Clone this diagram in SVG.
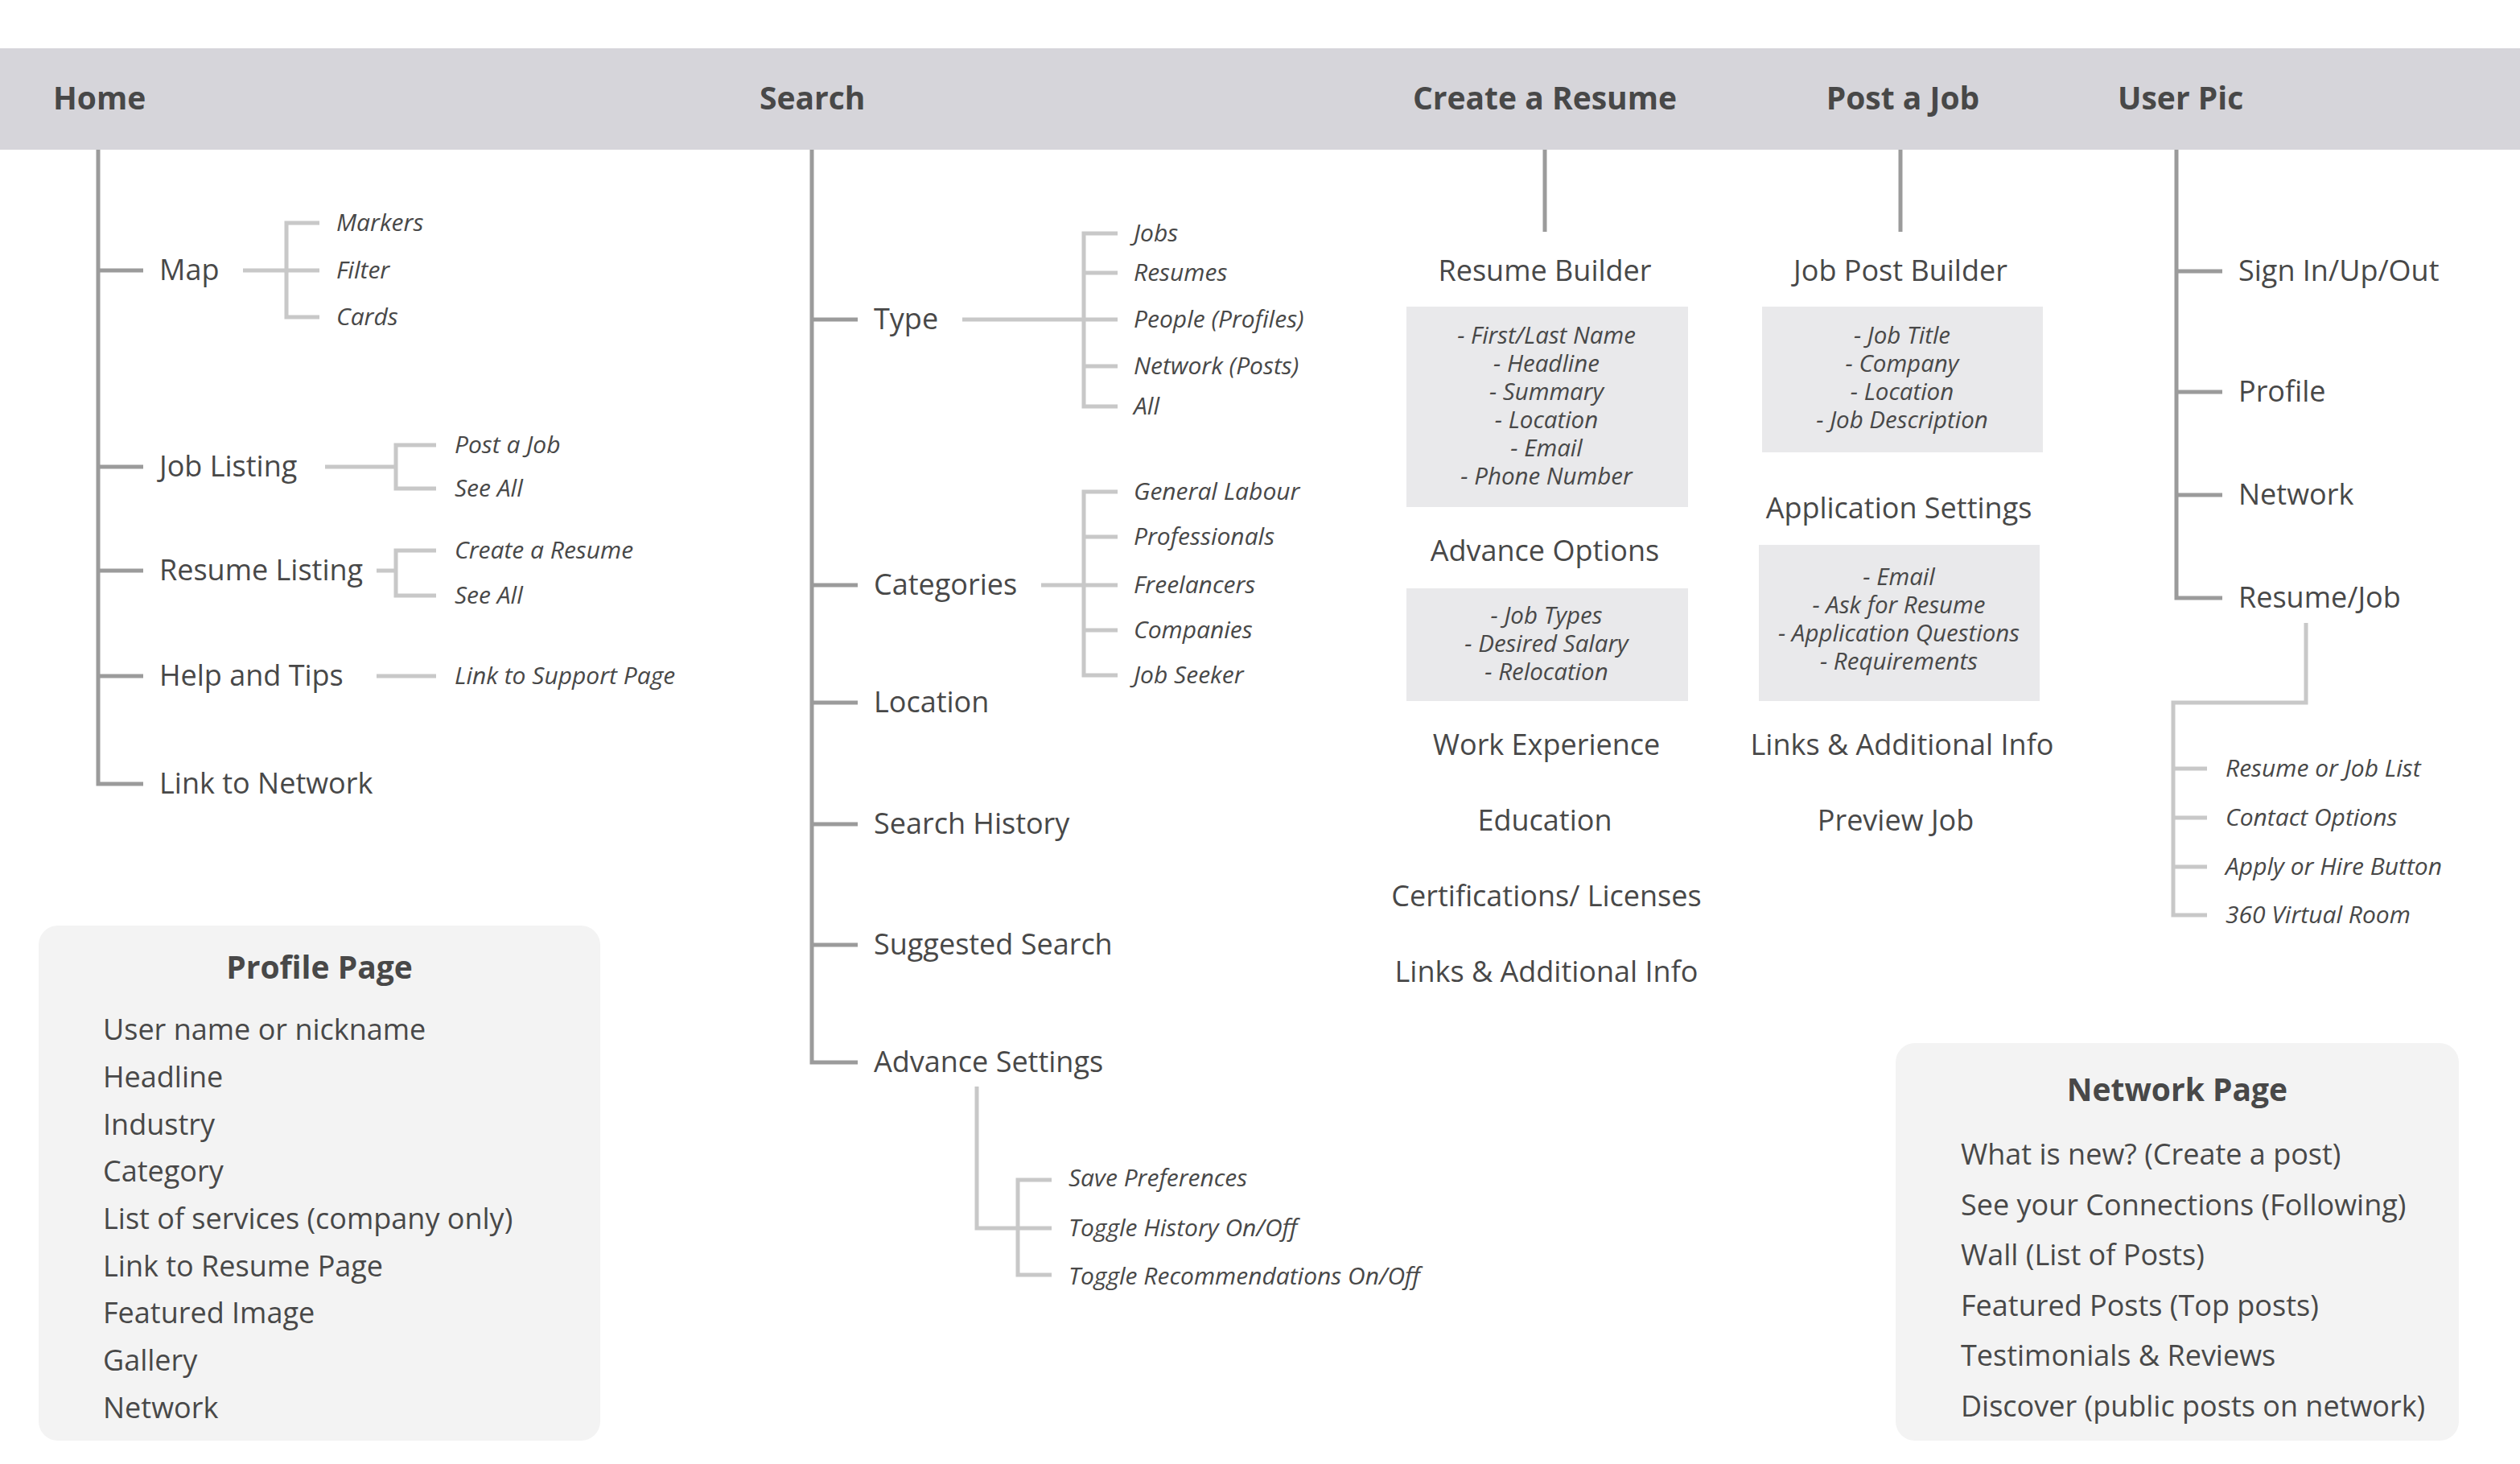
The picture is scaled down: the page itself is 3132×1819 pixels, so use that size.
<svg xmlns="http://www.w3.org/2000/svg" width="3132" height="1819" viewBox="0 0 3132 1819">
<style>
text{font-family:"Open Sans","Liberation Sans",sans-serif;fill:#484848}
.h{font-size:39px;font-weight:700}
.t{font-size:36px}
.s{font-size:30px;font-style:italic}
.b{font-size:29.5px;font-style:italic;text-anchor:middle}
.c{text-anchor:middle}
.trunk{fill:none;stroke:#9b9b9b;stroke-width:5}
.sub{fill:none;stroke:#c8c8c8;stroke-width:5}
.box{fill:#e9e9eb}
.panel{fill:#f3f3f3}
</style>
<rect width="3132" height="1819" fill="#ffffff"/>
<rect id="header-band" x="0" y="60" width="3132" height="126" fill="#d6d5da"/>

<g id="connectors">
<path class="trunk" d="M122 186V974H178M122 336H178M122 580H178M122 709H178M122 840H178"/>
<path class="sub" d="M302 336H397M397 277H356V394H397"/>
<path class="sub" d="M404 580H492M542 553H492V607H542"/>
<path class="sub" d="M468 709H492M542 684H492V740H542"/>
<path class="sub" d="M468 840H542"/>
<path class="trunk" d="M1009 186V1320H1066M1009 397H1066M1009 727H1066M1009 873H1066M1009 1024H1066M1009 1174H1066"/>
<path class="sub" d="M1196 397H1389M1389 290H1347V505H1389M1347 339H1389M1347 455H1389"/>
<path class="sub" d="M1294 727H1389M1389 611H1347V839H1389M1347 667H1389M1347 783H1389"/>
<path class="sub" d="M1214 1350V1526H1307M1307 1466H1265V1584H1307"/>
<path class="trunk" d="M1920 186V288"/>
<path class="trunk" d="M2362 186V288"/>
<path class="trunk" d="M2705 186V743H2762M2705 337H2762M2705 487H2762M2705 615H2762"/>
<path class="sub" d="M2866 774V873H2701V1137H2743M2701 955H2743M2701 1016H2743M2701 1077H2743"/>
</g>

<g id="home">
<text class="h" x="66" y="136">Home</text>
<g id="home-map"><text class="t" x="198" y="348">Map</text>
<text class="s" x="418" y="287">Markers</text><text class="s" x="418" y="346">Filter</text><text class="s" x="418" y="404">Cards</text></g>
<g id="home-job-listing"><text class="t" x="198" y="592">Job Listing</text>
<text class="s" x="565" y="563">Post a Job</text><text class="s" x="565" y="617">See All</text></g>
<g id="home-resume-listing"><text class="t" x="198" y="721">Resume Listing</text>
<text class="s" x="565" y="694">Create a Resume</text><text class="s" x="565" y="750">See All</text></g>
<g id="home-help"><text class="t" x="198" y="852">Help and Tips</text>
<text class="s" x="565" y="850">Link to Support Page</text></g>
<g id="home-link-network"><text class="t" x="198" y="986">Link to Network</text></g>
</g>

<g id="search">
<text class="h" x="944" y="136">Search</text>
<g id="search-type"><text class="t" x="1086" y="409">Type</text>
<text class="s" x="1409" y="300">Jobs</text><text class="s" x="1409" y="349">Resumes</text><text class="s" x="1409" y="407">People (Profiles)</text><text class="s" x="1409" y="465">Network (Posts)</text><text class="s" x="1409" y="515">All</text></g>
<g id="search-categories"><text class="t" x="1086" y="739">Categories</text>
<text class="s" x="1409" y="621">General Labour</text><text class="s" x="1409" y="677">Professionals</text><text class="s" x="1409" y="737">Freelancers</text><text class="s" x="1409" y="793">Companies</text><text class="s" x="1409" y="849">Job Seeker</text></g>
<g id="search-location"><text class="t" x="1086" y="885">Location</text></g>
<g id="search-history"><text class="t" x="1086" y="1036">Search History</text></g>
<g id="search-suggested"><text class="t" x="1086" y="1186">Suggested Search</text></g>
<g id="search-advance"><text class="t" x="1086" y="1332">Advance Settings</text>
<text class="s" x="1328" y="1474">Save Preferences</text><text class="s" x="1328" y="1536">Toggle History On/Off</text><text class="s" x="1328" y="1596">Toggle Recommendations On/Off</text></g>
</g>

<g id="create-resume">
<text class="h c" x="1920" y="136">Create a Resume</text>
<text class="t c" x="1920" y="349">Resume Builder</text>
<rect class="box" x="1748" y="381" width="350" height="249"/>
<text class="b" x="1922" y="427">- First/Last Name</text>
<text class="b" x="1922" y="462">- Headline</text>
<text class="b" x="1922" y="497">- Summary</text>
<text class="b" x="1922" y="532">- Location</text>
<text class="b" x="1922" y="567">- Email</text>
<text class="b" x="1922" y="602">- Phone Number</text>
<text class="t c" x="1920" y="697">Advance Options</text>
<rect class="box" x="1748" y="731" width="350" height="140"/>
<text class="b" x="1922" y="775">- Job Types</text>
<text class="b" x="1922" y="810">- Desired Salary</text>
<text class="b" x="1922" y="845">- Relocation</text>
<text class="t c" x="1922" y="938">Work Experience</text>
<text class="t c" x="1920" y="1032">Education</text>
<text class="t c" x="1922" y="1126">Certifications/ Licenses</text>
<text class="t c" x="1922" y="1220">Links &amp; Additional Info</text>
</g>

<g id="post-job">
<text class="h c" x="2365" y="136">Post a Job</text>
<text class="t c" x="2362" y="349">Job Post Builder</text>
<rect class="box" x="2190" y="381" width="349" height="181"/>
<text class="b" x="2364" y="427">- Job Title</text>
<text class="b" x="2364" y="462">- Company</text>
<text class="b" x="2364" y="497">- Location</text>
<text class="b" x="2364" y="532">- Job Description</text>
<text class="t c" x="2360" y="644">Application Settings</text>
<rect class="box" x="2186" y="677" width="349" height="194"/>
<text class="b" x="2360" y="727">- Email</text>
<text class="b" x="2360" y="762">- Ask for Resume</text>
<text class="b" x="2360" y="797">- Application Questions</text>
<text class="b" x="2360" y="832">- Requirements</text>
<text class="t c" x="2364" y="938">Links &amp; Additional Info</text>
<text class="t c" x="2356" y="1032">Preview Job</text>
</g>

<g id="user-pic">
<text class="h" x="2632" y="136">User Pic</text>
<text class="t" x="2782" y="349">Sign In/Up/Out</text>
<text class="t" x="2782" y="499">Profile</text>
<text class="t" x="2782" y="627">Network</text>
<text class="t" x="2782" y="755">Resume/Job</text>
<text class="s" x="2766" y="965">Resume or Job List</text>
<text class="s" x="2766" y="1026">Contact Options</text>
<text class="s" x="2766" y="1087">Apply or Hire Button</text>
<text class="s" x="2766" y="1147">360 Virtual Room</text>
</g>

<g id="profile-page">
<rect class="panel" x="48" y="1150" width="698" height="640" rx="24"/>
<text class="h c" x="397" y="1216">Profile Page</text>
<text class="t" x="128" y="1292">User name or nickname</text>
<text class="t" x="128" y="1351">Headline</text>
<text class="t" x="128" y="1410">Industry</text>
<text class="t" x="128" y="1468">Category</text>
<text class="t" x="128" y="1527">List of services (company only)</text>
<text class="t" x="128" y="1586">Link to Resume Page</text>
<text class="t" x="128" y="1644">Featured Image</text>
<text class="t" x="128" y="1703">Gallery</text>
<text class="t" x="128" y="1762">Network</text>
</g>

<g id="network-page">
<rect class="panel" x="2356" y="1296" width="700" height="494" rx="24"/>
<text class="h c" x="2706" y="1368">Network Page</text>
<text class="t" x="2437" y="1447">What is new? (Create a post)</text>
<text class="t" x="2437" y="1510">See your Connections (Following)</text>
<text class="t" x="2437" y="1572">Wall (List of Posts)</text>
<text class="t" x="2437" y="1635">Featured Posts (Top posts)</text>
<text class="t" x="2437" y="1697">Testimonials &amp; Reviews</text>
<text class="t" x="2437" y="1760">Discover (public posts on network)</text>
</g>
</svg>
